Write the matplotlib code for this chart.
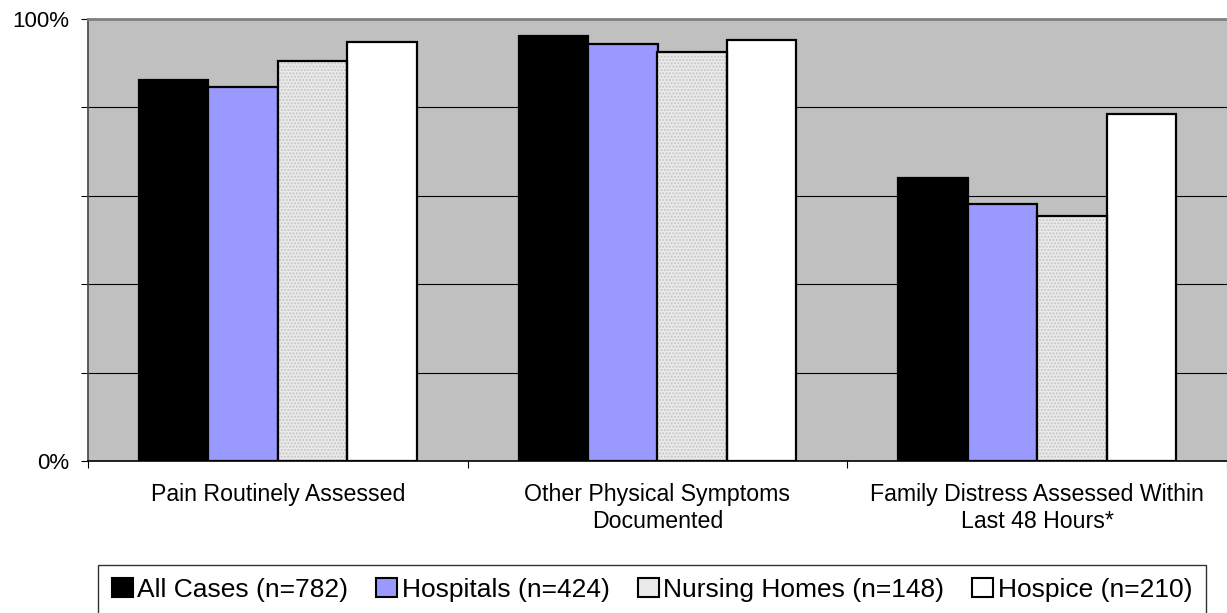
import matplotlib
matplotlib.use("Agg")
import matplotlib.pyplot as plt
from matplotlib.patches import Patch
import numpy as np

plt.rcParams['font.family'] = ['Liberation Sans', 'DejaVu Sans']

categories = ['Pain Routinely Assessed',
              'Other Physical Symptoms\nDocumented',
              'Family Distress Assessed Within\nLast 48 Hours*']
series_names = ['All Cases (n=782)', 'Hospitals (n=424)',
                'Nursing Homes (n=148)', 'Hospice (n=210)']
all_cases = [86.3, 96.2, 64.1]
hospitals = [84.6, 94.4, 58.1]
nursing_homes = [90.5, 92.5, 55.5]
hospice = [94.8, 95.2, 78.6]

colors = ['#000000', '#9999FF', '#EAEAEA', '#FFFFFF']
series = [all_cases, hospitals, nursing_homes, hospice]

fig = plt.figure(figsize=(12.27, 6.13), dpi=100)
ax = fig.add_axes([88 / 1227, 1 - 461 / 613, 1 - 88 / 1227, (461 - 19) / 613])
ax.set_facecolor('#C0C0C0')

x = np.arange(len(categories))
w = 0.183
for i, (vals, col) in enumerate(zip(series, colors)):
    pos = x + (i - 1.5) * w
    if i == 2:
        # dotted fill first, then the outline on top
        ax.bar(pos, vals, w, color=col, edgecolor='#C4C4C4', hatch='.....',
               linewidth=0, zorder=3)
        ax.bar(pos, vals, w, facecolor='none', edgecolor='black',
               linewidth=1.6, zorder=4)
    else:
        ax.bar(pos, vals, w, color=col, edgecolor='black', linewidth=1.6, zorder=3)

ax.set_xlim(-0.5, 2.5)
ax.set_ylim(0, 100)

ax.set_yticks([0, 20, 40, 60, 80, 100])
ax.set_yticklabels(['0%', '', '', '', '', '100%'])
for g in [20, 40, 60, 80]:
    ax.axhline(g, color='black', linewidth=0.8, zorder=1)

ax.set_xticks(x)
ax.set_xticklabels(categories, fontsize=16.7, linespacing=1.2)
ax.set_xticks([-0.5, 0.5, 1.5, 2.5], minor=True)
ax.tick_params(axis='x', which='major', length=0, pad=16)
ax.tick_params(axis='x', which='minor', length=5, width=0.8, color='black', direction='out')
ax.tick_params(axis='y', length=5, width=0.8, color='black', pad=8.5, labelsize=16)

ax.spines['right'].set_visible(False)
ax.spines['top'].set_color('#808080')
ax.spines['top'].set_linewidth(2)
ax.spines['left'].set_color('#505050')
ax.spines['left'].set_linewidth(1.3)
ax.spines['bottom'].set_color('black')
ax.spines['bottom'].set_linewidth(1.2)

handles = [Patch(facecolor=c, edgecolor='black', linewidth=1.5) for c in colors]
leg = fig.legend(handles, series_names, loc='center', ncol=4,
                 bbox_to_anchor=(652 / 1227, 1 - 590 / 613),
                 fontsize=19, frameon=True, fancybox=False,
                 borderpad=0.5, handlelength=0.8, handleheight=0.72,
                 handletextpad=0.18, columnspacing=1.05)
leg.get_frame().set_edgecolor('black')
leg.get_frame().set_linewidth(1.0)

fig.savefig('out.png', dpi=100)
